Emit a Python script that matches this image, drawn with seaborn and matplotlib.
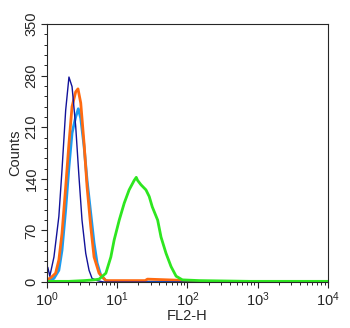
import numpy as np
import pandas as pd
import seaborn as sns
import matplotlib
matplotlib.use('Agg')
import matplotlib.pyplot as plt
from matplotlib.ticker import LogLocator, MultipleLocator, NullFormatter

# FL2-H values and counts
navy_fl2 = [1.00, 1.03, 1.10, 1.26, 1.48, 1.64, 1.85, 2.06, 2.28, 2.57, 2.86, 3.16, 3.57, 3.98, 4.39, 5.18, 6.5, 10000]
navy_counts = [14, 20, 8, 34, 89, 152, 233, 278, 265, 211, 143, 84, 39, 16, 5, 2, 0, 0]

blue_fl2 = [1.00, 1.26, 1.48, 1.64, 1.85, 2.06, 2.28, 2.57, 2.80, 3.03, 3.38, 3.73, 4.21, 4.69, 5.18, 5.85, 6.9, 8.2, 10000]
blue_counts = [1, 5, 16, 43, 98, 156, 202, 224, 235, 222, 184, 138, 93, 53, 26, 9, 2, 0, 0]

orange_fl2 = [1.00, 1.14, 1.33, 1.48, 1.64, 1.85, 2.06, 2.28, 2.57, 2.77, 3.03, 3.38, 3.73, 4.21, 4.69, 5.53, 6.9, 25, 27, 107, 120, 10000]
orange_counts = [3, 6, 12, 30, 66, 129, 188, 238, 258, 262, 243, 188, 129, 75, 34, 12, 2, 2, 4, 2, 0, 0]

green_fl2 = [1.00, 2.06, 3.38, 4.69, 5.53, 6.9, 8.13, 9.06, 10.7, 12.6, 14.8, 17.5, 18.7, 19.5, 21.8, 25.7, 28.6, 31.6, 37.7, 42.1, 49.6, 58.5, 69, 84.8, 148, 769, 10000]
green_counts = [1, 1, 2, 3, 4, 12, 34, 57, 84, 107, 125, 138, 142, 138, 132, 125, 116, 102, 84, 61, 39, 21, 8, 3, 2, 1, 1]

sns.set_style('ticks')
plt.rcParams['font.family'] = ['Liberation Sans', 'DejaVu Sans']
plt.rcParams['mathtext.fontset'] = 'custom'
plt.rcParams['mathtext.rm'] = 'Liberation Sans'
plt.rcParams['mathtext.it'] = 'Liberation Sans'

fig = plt.figure(figsize=(3.5, 3.28), dpi=100)
ax = fig.add_axes([0.134, 0.140, 0.803, 0.787])

series = [
    (blue_fl2, blue_counts, '#1c9cf0', 2.0),
    (orange_fl2, orange_counts, '#ff6a10', 2.0),
    (navy_fl2, navy_counts, '#12129a', 1.0),
    (green_fl2, green_counts, '#2ee620', 2.0),
]
for xs, ys, color, lw in series:
    df = pd.DataFrame({'FL2-H': xs, 'Counts': ys})
    sns.lineplot(data=df, x='FL2-H', y='Counts', color=color, linewidth=lw, ax=ax)

ax.set_xscale('log')
ax.set_xlim(1, 10000)
ax.set_ylim(0, 350)
ax.xaxis.set_major_locator(LogLocator(base=10, numticks=10))
ax.xaxis.set_minor_locator(LogLocator(base=10, subs=np.arange(2, 10), numticks=100))
ax.xaxis.set_minor_formatter(NullFormatter())
ax.yaxis.set_major_locator(MultipleLocator(70))
ax.yaxis.set_minor_locator(MultipleLocator(14))

ax.tick_params(axis='both', which='major', direction='out', length=4, width=0.8, labelsize=10.5, pad=2)
ax.tick_params(axis='both', which='minor', direction='out', length=2.5, width=0.7)
for lab in ax.get_yticklabels():
    lab.set_rotation(90)
    lab.set_va('center')
for s in ax.spines.values():
    s.set_linewidth(0.8)

ax.set_xlabel('FL2-H', fontsize=10.5, labelpad=0)
ax.set_ylabel('Counts', fontsize=10.5, labelpad=2)

plt.savefig('out.png', dpi=100)
